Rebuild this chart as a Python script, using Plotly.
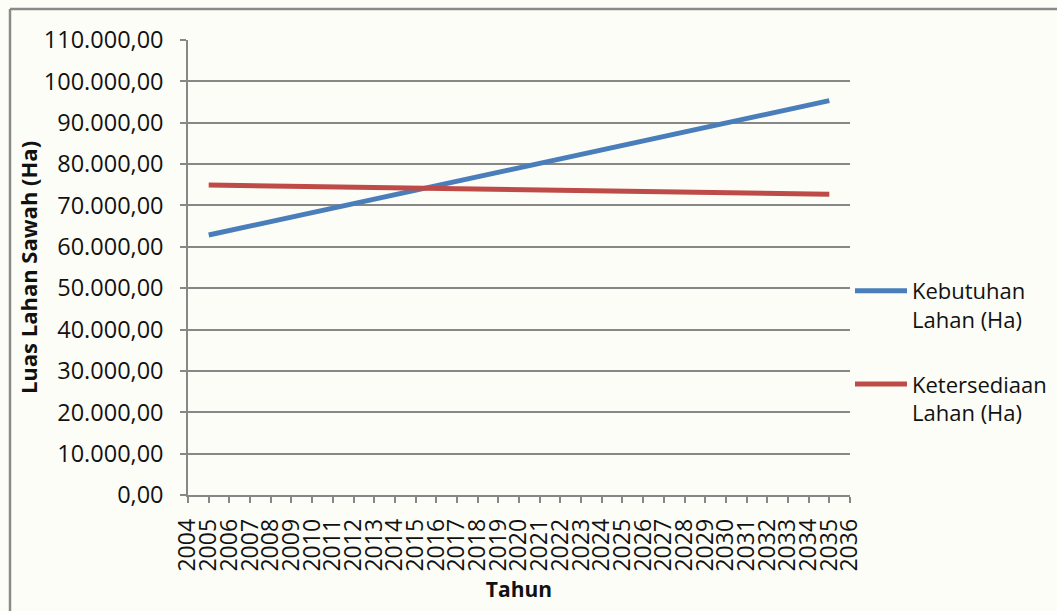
import plotly.graph_objects as go

# Tahun (x axis categories shown as ticks)
tick_years = list(range(2004, 2037))

# Years with data
years = list(range(2005, 2036))

# Kebutuhan Lahan (Ha)
kebutuhan = [62860, 63940, 65020, 66110, 67190, 68270, 69350, 70440, 71520, 72600,
             73680, 74770, 75850, 76930, 78010, 79100, 80180, 81260, 82340, 83430,
             84510, 85590, 86670, 87760, 88840, 89920, 91000, 92090, 93170, 94250,
             95330]

# Ketersediaan Lahan (Ha)
ketersediaan = [74950, 74880, 74800, 74730, 74650, 74580, 74500, 74430, 74350, 74280,
                74200, 74130, 74050, 73980, 73900, 73830, 73750, 73680, 73600, 73530,
                73450, 73380, 73300, 73230, 73150, 73080, 73000, 72930, 72850, 72780,
                72700]

y_ticks = [0, 10000, 20000, 30000, 40000, 50000, 60000, 70000, 80000, 90000, 100000, 110000]

FONT = "Open Sans"
BG = "#fcfdf7"
GRID = "#878787"

fig = go.Figure()
fig.add_trace(go.Scatter(
    x=years, y=kebutuhan, mode="lines",
    name="Kebutuhan<br>Lahan (Ha)", legendgroup="kebutuhan",
    line=dict(color="#4a7ebb", width=5),
))
fig.add_trace(go.Scatter(
    x=years, y=ketersediaan, mode="lines",
    name="Ketersediaan<br>Lahan (Ha)", legendgroup="ketersediaan",
    line=dict(color="#be4b48", width=5),
))

W, H = 1057, 611
L, R, T, B = 188, 207, 40, 116

fig.update_layout(
    width=W, height=H,
    margin=dict(l=L, r=R, t=T, b=B, autoexpand=False),
    paper_bgcolor=BG, plot_bgcolor=BG,
    separators=",.",
    font=dict(family=FONT, color="#111111"),
    showlegend=True,
    legend=dict(
        x=1.0, xanchor="left", y=(H - B - 270) / (H - T - B), yanchor="top",
        font=dict(family=FONT, size=22, color="#111111"),
        bgcolor="rgba(0,0,0,0)",
        tracegroupgap=33,
        itemwidth=52,
        valign="top",
    ),
    xaxis=dict(
        range=[2004, 2036],
        tickmode="array",
        tickvals=tick_years,
        ticktext=[str(t) for t in tick_years],
        tickangle=-90,
        tickfont=dict(family=FONT, size=23, color="#111111"),
        ticks="outside", ticklen=6, tickwidth=1.5, tickcolor=GRID,
        showline=True, linecolor=GRID, linewidth=1.5,
        showgrid=False, zeroline=False,
        ticklabelstandoff=7,
        title=dict(text="<b>Tahun</b>", font=dict(family=FONT, size=21, color="#111111"), standoff=12),
    ),
    yaxis=dict(
        range=[0, 110000],
        tickmode="array",
        tickvals=y_ticks,
        tickformat=",.2f",
        tickfont=dict(family=FONT, size=23.5, color="#111111"),
        ticks="outside", ticklen=6, tickwidth=1.5, tickcolor=GRID,
        showline=True, linecolor=GRID, linewidth=1.5,
        showgrid=True, gridcolor=GRID, gridwidth=1.5,
        zeroline=False,
        ticklabelstandoff=12,
        title=dict(text="<b>Luas Lahan Sawah (Ha)</b>", font=dict(family=FONT, size=22, color="#111111"), standoff=0),
    ),
)

# Outer chart frame (top and left edges visible)
pw, ph = W - L - R, H - T - B
fx0 = (10 - L) / pw
fy1 = (H - B - 9) / ph
fig.add_shape(type="line", xref="paper", yref="paper",
              x0=fx0, x1=(W + 5 - L) / pw, y0=fy1, y1=fy1,
              line=dict(color="#8a8a8a", width=2.5))
fig.add_shape(type="line", xref="paper", yref="paper",
              x0=fx0, x1=fx0, y0=fy1, y1=-(B + 5) / ph,
              line=dict(color="#8a8a8a", width=2.5))

fig.write_html("out.html")
